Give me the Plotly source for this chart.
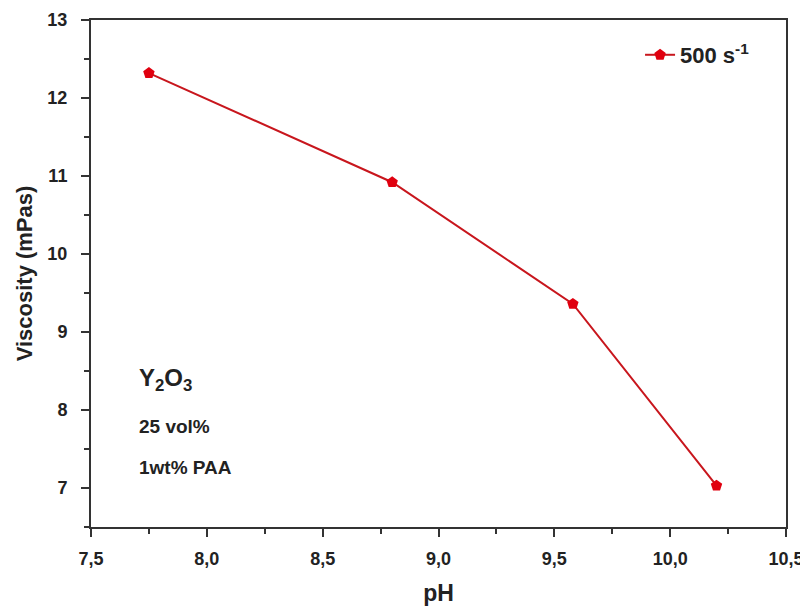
import plotly.graph_objects as go

ph = [7.75, 8.80, 9.58, 10.20]
viscosity = [12.32, 10.92, 9.36, 7.03]
series_name = "<b>500 s<sup>-1</sup></b>"

fig = go.Figure()
fig.add_trace(go.Scatter(
    x=ph, y=viscosity, mode="lines+markers", name=series_name,
    line=dict(color="#c8161d", width=2),
    marker=dict(symbol="pentagon", size=12, color="#e0000f"),
))

font_main = "Liberation Sans, Arial, sans-serif"
axis_common = dict(
    showline=True, linecolor="#333333", linewidth=2, mirror=True,
    ticks="outside", ticklen=8, tickwidth=2, tickcolor="#333333",
    showgrid=False, zeroline=False, automargin=False,
    tickfont=dict(family=font_main, size=18, color="#222222", weight="bold"),
)
minor_common = dict(ticks="outside", ticklen=5, tickwidth=2, tickcolor="#333333")

fig.update_layout(
    width=800, height=598,
    margin=dict(l=83, r=22, t=12, b=79, autoexpand=False),
    plot_bgcolor="white", paper_bgcolor="white",
    separators=",.",
    showlegend=True,
    legend=dict(x=0.79, y=0.931, xanchor="left", yanchor="middle",
                bgcolor="rgba(0,0,0,0)",
                font=dict(family=font_main, size=22, color="#222222", weight="bold")),
    xaxis=dict(range=[7.5, 10.5], tick0=7.5, dtick=0.5, tickformat=".1f",
               ticklabelstandoff=6,
               minor=dict(dtick=0.25, **minor_common),
               title=dict(text="<b>pH</b>", font=dict(family=font_main, size=23, color="#222222", weight="bold"), standoff=18),
               **axis_common),
    yaxis=dict(range=[6.5, 13], tick0=7, dtick=1,
               ticklabelstandoff=10,
               minor=dict(dtick=0.5, **minor_common),
               title=dict(text="<b>Viscosity (mPas)</b>", font=dict(family=font_main, size=22, color="#222222", weight="bold"), standoff=9),
               **axis_common),
)

annot_font = dict(family=font_main, color="#222222", weight="bold")
fig.add_annotation(x=0.066, y=0.29, xref="paper", yref="paper", xanchor="left", yanchor="middle",
                   text="<b>Y<sub>2</sub>O<sub>3</sub></b>", showarrow=False, font=dict(size=24, **annot_font))
fig.add_annotation(x=0.066, y=0.199, xref="paper", yref="paper", xanchor="left", yanchor="middle",
                   text="<b>25 vol%</b>", showarrow=False, font=dict(size=19, **annot_font))
fig.add_annotation(x=0.066, y=0.118, xref="paper", yref="paper", xanchor="left", yanchor="middle",
                   text="<b>1wt% PAA</b>", showarrow=False, font=dict(size=19, **annot_font))

fig.write_html("out.html")
